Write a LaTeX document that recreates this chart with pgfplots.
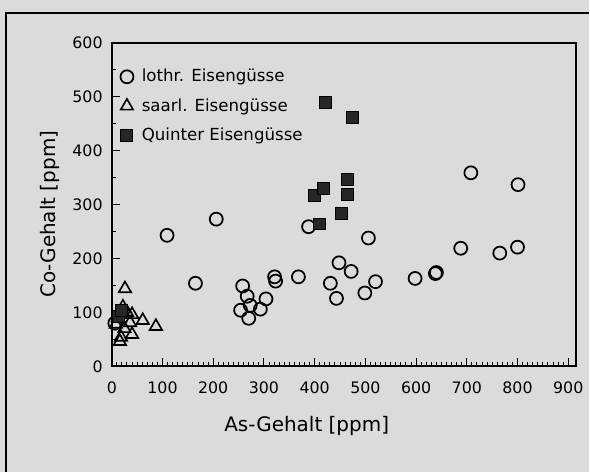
\documentclass[border=0pt]{standalone}
\usepackage{pgfplots}
\pgfplotsset{compat=1.18}
\usepackage{fontspec}
\setmainfont{DejaVu Sans}

\begin{document}
\begin{tikzpicture}[x=0.6pt,y=0.6pt]
  % page background and the scan's frame
  \fill[black!14] (0,0) rectangle (590,473);
  \draw[line width=1.4pt] (6,0) -- (6,460) -- (590,460);

  \begin{axis}[
    at={(67.2pt,63.6pt)}, anchor=south west,
    scale only axis,
    width=279pt, height=194.4pt,
    xmin=0, xmax=915, ymin=0, ymax=600,
    xtick={0,100,...,900}, ytick={0,100,...,600},
    minor x tick num=9, minor y tick num=1,
    tick align=inside,
    xtick pos=bottom, ytick pos=left,
    major tick length=5pt, minor tick length=2.5pt,
    axis line style={line width=1.2pt},
    every tick/.style={black, line width=0.6pt},
    tick label style={font=\fontsize{9.5}{10}\selectfont},
    /pgf/number format/assume math mode=true,
    /pgf/number format/1000 sep={},
    xticklabel style={yshift=-5.5pt},
    yticklabel style={xshift=-2pt},
    xlabel={As-Gehalt [ppm]},
    ylabel={Co-Gehalt [ppm]},
    label style={font=\fontsize{12}{14}\selectfont},
    xlabel style={at={(axis description cs:0.42,-0.185)}, anchor=center},
    ylabel style={at={(axis description cs:-0.133,0.47)}, anchor=center},
    legend style={at={(0.018,0.93)}, anchor=north west, draw=none, fill=none,
      font=\fontsize{10}{12}\selectfont, row sep=4.5pt, inner sep=0pt,
      /tikz/every odd column/.append style={column sep=3pt}},
    legend cell align=left,
  ]
    \addplot[only marks, mark=o, mark size=3.9pt, line width=1.05pt,
      mark options={fill=white}]
      coordinates {
        (109,243)(206,273)(165,154)(258,149)(267,130)(254,104)(273,113)
        (270,89)(293,106)(304,125)(321,166)(323,158)(368,166)(388,259)
        (431,154)(443,126)(448,192)(472,176)(506,238)(499,136)(520,157)
        (598,163)(638,172)(640,174)(688,219)(708,359)(765,210)(800,221)
        (801,337)(6,80)
      };
    \addlegendentry{lothr. Eisengüsse}

    \addplot[only marks, mark=triangle, mark size=4.3pt, line width=1pt,
      mark options={fill=white}]
      coordinates {
        (26,144)(61,85)(87,74)(40,96)(36,81)(40,59)(18,54)(16,46)
        (30,100)(22,110)(12,90)(25,70)(8,78)
      };
    \addlegendentry{saarl. Eisengüsse}

    \addplot[only marks, mark=square*, mark size=3.6pt, line width=0.6pt,
      mark options={fill=black!85, draw=black}]
      coordinates {
        (422,490)(475,461)(399,316)(417,330)(464,347)(464,318)(453,284)
        (410,264)(14,92)(20,104)
      };
    \addlegendentry{Quinter Eisengüsse}
  \end{axis}
\end{tikzpicture}
\end{document}
